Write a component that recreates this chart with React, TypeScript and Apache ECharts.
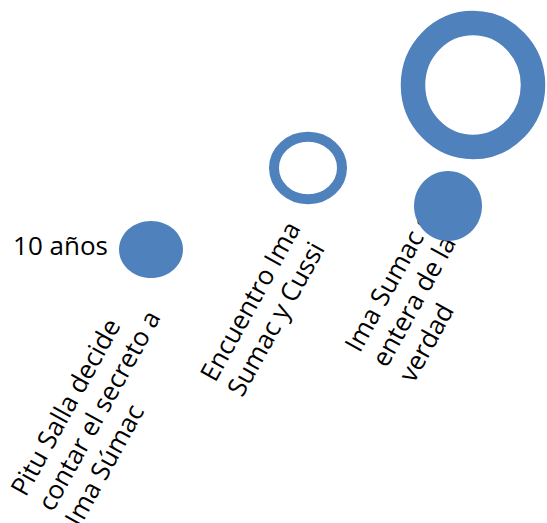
import React, { useEffect, useRef } from "react";
import * as echarts from "echarts";

// Diagram content
const stepLabels: string[] = [
  "Pitu Salla decide\ncontar el secreto a\nIma Súmac",
  "Encuentro Ima\nSumac y Cussi",
  "Ima Sumac se\nentera de la\nverdad",
];
const timeLabel: string[] = ["10 años"];

const BLUE = "#4F81BD";
const FONT = "'Open Sans', 'DejaVu Sans', sans-serif";
const ROT = (61 * Math.PI) / 180;

export default function App() {
  const ref = useRef<HTMLDivElement>(null);
  useEffect(() => {
    if (!ref.current) return;
    const chart = echarts.init(ref.current, null, { renderer: "svg" });
    const textAnchors = [
      { x: 44, y: 508 },
      { x: 220, y: 386 },
      { x: 378, y: 364 },
    ];
    const texts = stepLabels.map((t, i) => ({
      type: "text",
      x: textAnchors[i].x,
      y: textAnchors[i].y,
      rotation: ROT,
      style: {
        text: t,
        fill: "#000",
        fontSize: 26,
        fontFamily: FONT,
        lineHeight: 31,
        textAlign: "left",
        align: "left",
        textVerticalAlign: "middle",
        verticalAlign: "middle",
      },
    }));
    chart.setOption({
      animation: false,
      graphic: [
        ...texts,
        {
          type: "text",
          x: 108,
          y: 245,
          style: {
            text: timeLabel[0],
            fill: "#000",
            fontSize: 26,
            fontFamily: FONT,
            textAlign: "right",
            align: "right",
            textVerticalAlign: "middle",
            verticalAlign: "middle",
          },
        },
        {
          type: "ellipse",
          shape: { cx: 151, cy: 249.5, rx: 32, ry: 28.5 },
          style: { fill: BLUE },
        },
        {
          type: "ellipse",
          shape: { cx: 308, cy: 168, rx: 34, ry: 31.3 },
          style: { fill: "none", stroke: BLUE, lineWidth: 10 },
        },
        {
          type: "ellipse",
          shape: { cx: 473, cy: 85, rx: 60, ry: 62 },
          style: { fill: "none", stroke: BLUE, lineWidth: 24.5 },
        },
        {
          type: "ellipse",
          shape: { cx: 448, cy: 206, rx: 34, ry: 35 },
          style: { fill: BLUE },
        },
      ],
    });
    return () => chart.dispose();
  }, []);
  return (
    <div
      ref={ref}
      style={{ position: "fixed", left: 0, top: 0, width: 547, height: 523, background: "#fff" }}
    />
  );
}
